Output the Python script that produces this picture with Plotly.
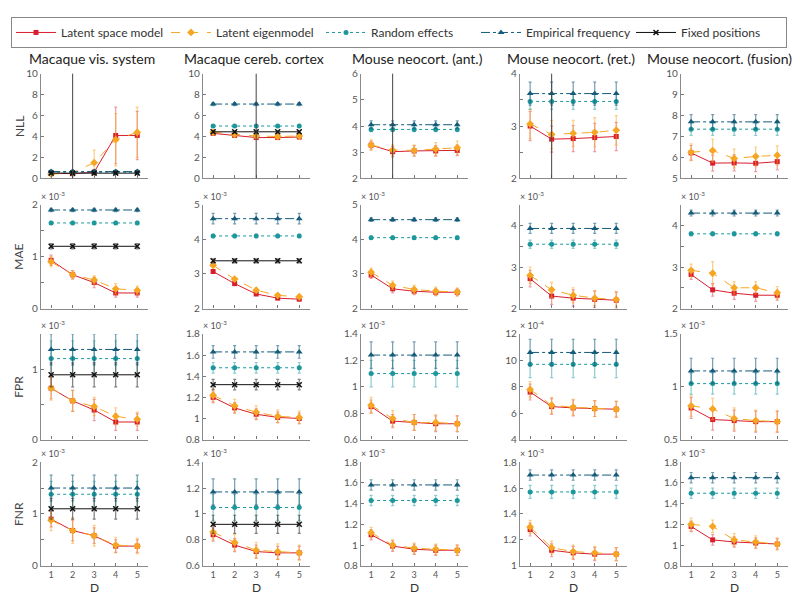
import plotly.graph_objects as go

# x values (latent dimension D)
D = [1, 2, 3, 4, 5]
datasets = ['Macaque vis. system', 'Macaque cereb. cortex', 'Mouse neocort. (ant.)',
            'Mouse neocort. (ret.)', 'Mouse neocort. (fusion)']
title_x = [84, 246, 410, 563, 711]
metrics = ['NLL', 'MAE', 'FPR', 'FNR']
chosen_D = [2, 3, 2, 2, None]

# exponent shown above each axis (None = none)
exponents = [
    [None, None, None, None, None],
    ['-3', '-3', '-3', '-3', '-3'],
    ['-3', '-3', '-3', '-4', '-3'],
    ['-3', '-3', '-3', '-3', '-3'],
]

# ---- NLL ----
nll_lsm = [[0.5, 0.45, 0.6, 4.1, 4.1], [4.3, 4.1, 3.9, 3.9, 3.95], [3.27, 3.02, 3.05, 3.05, 3.07],
           [3.0, 2.75, 2.76, 2.78, 2.8], [6.22, 5.73, 5.74, 5.72, 5.8]]
nll_lsm_err = [[0.1, 0.1, 0.15, 2.7, 2.3], [0.15, 0.15, 0.15, 0.15, 0.15], [0.15, 0.2, 0.2, 0.2, 0.2],
               [0.28, 0.25, 0.25, 0.27, 0.27], [0.35, 0.38, 0.38, 0.4, 0.4]]
nll_eig = [[0.4, 0.55, 1.5, 3.7, 4.4], [4.4, 4.2, 4.05, 4.0, 4.05], [3.27, 3.08, 3.07, 3.12, 3.17],
           [3.04, 2.84, 2.86, 2.88, 2.92], [6.25, 6.33, 5.95, 6.05, 6.1]]
nll_eig_err = [[0.1, 0.1, 1.2, 2.5, 2.4], [0.15, 0.15, 0.15, 0.15, 0.15], [0.2, 0.2, 0.2, 0.25, 0.25],
               [0.28, 0.27, 0.25, 0.28, 0.28], [0.4, 0.55, 0.45, 0.45, 0.45]]
nll_re = [0.6, 5.0, 3.87, 3.47, 7.35]
nll_re_err = [0.15, 0.1, 0.08, 0.15, 0.3]
nll_emp = [0.65, 7.1, 4.05, 3.62, 7.7]
nll_emp_err = [0.15, 0.15, 0.15, 0.22, 0.35]
nll_fix = [0.5, 4.45, None, None, None]
nll_fix_err = [0.1, 0.1, None, None, None]

# ---- MAE ----
mae_lsm = [[0.93, 0.65, 0.5, 0.3, 0.3], [3.07, 2.72, 2.42, 2.3, 2.27], [2.97, 2.57, 2.5, 2.47, 2.47],
           [2.72, 2.3, 2.25, 2.22, 2.2], [2.82, 2.45, 2.37, 2.32, 2.32]]
mae_lsm_err = [[0.1, 0.08, 0.1, 0.08, 0.08], [0.04, 0.04, 0.04, 0.04, 0.04], [0.1, 0.12, 0.1, 0.1, 0.1],
               [0.2, 0.2, 0.2, 0.2, 0.2], [0.12, 0.15, 0.15, 0.15, 0.12]]
mae_eig = [[0.9, 0.65, 0.55, 0.38, 0.35], [3.25, 2.85, 2.53, 2.38, 2.34], [3.05, 2.67, 2.55, 2.5, 2.48],
           [2.8, 2.45, 2.32, 2.25, 2.22], [2.92, 2.85, 2.5, 2.5, 2.38]]
mae_eig_err = [[0.1, 0.08, 0.08, 0.1, 0.08], [0.05, 0.05, 0.05, 0.05, 0.05], [0.12, 0.12, 0.12, 0.12, 0.12],
               [0.2, 0.18, 0.18, 0.18, 0.18], [0.15, 0.28, 0.15, 0.15, 0.15]]
mae_re = [1.65, 4.1, 4.05, 3.55, 3.8]
mae_re_err = [0.03, 0.05, 0.05, 0.1, 0.05]
mae_emp = [1.9, 4.6, 4.57, 3.93, 4.3]
mae_emp_err = [0.03, 0.15, 0.05, 0.12, 0.07]
mae_fix = [1.2, 3.38, None, None, None]
mae_fix_err = [0.05, 0.06, None, None, None]

# ---- FPR ----
fpr_lsm = [[0.73, 0.55, 0.42, 0.25, 0.25], [1.2, 1.1, 1.04, 1.01, 1.0], [0.85, 0.74, 0.73, 0.72, 0.72],
           [7.6, 6.5, 6.4, 6.35, 6.3], [0.8, 0.69, 0.68, 0.67, 0.67]]
fpr_lsm_err = [[0.15, 0.15, 0.15, 0.12, 0.12], [0.05, 0.05, 0.05, 0.05, 0.05], [0.05, 0.05, 0.06, 0.06, 0.06],
               [0.6, 0.6, 0.6, 0.6, 0.6], [0.1, 0.1, 0.1, 0.1, 0.1]]
fpr_eig = [[0.73, 0.55, 0.47, 0.33, 0.29], [1.22, 1.12, 1.06, 1.02, 1.01], [0.86, 0.76, 0.73, 0.73, 0.72],
           [7.8, 6.6, 6.45, 6.35, 6.3], [0.82, 0.79, 0.7, 0.68, 0.67]]
fpr_eig_err = [[0.17, 0.15, 0.13, 0.12, 0.1], [0.06, 0.06, 0.06, 0.06, 0.06], [0.06, 0.06, 0.06, 0.06, 0.06],
               [0.6, 0.6, 0.6, 0.6, 0.6], [0.1, 0.1, 0.1, 0.1, 0.1]]
fpr_re = [1.15, 1.48, 1.1, 9.7, 1.03]
fpr_re_err = [0.25, 0.05, 0.1, 1.0, 0.1]
fpr_emp = [1.28, 1.63, 1.24, 10.6, 1.15]
fpr_emp_err = [0.22, 0.06, 0.1, 1.0, 0.12]
fpr_fix = [0.92, 1.32, None, None, None]
fpr_fix_err = [0.17, 0.05, None, None, None]

# ---- FNR ----
fnr_lsm = [[0.9, 0.68, 0.58, 0.38, 0.38], [0.84, 0.76, 0.71, 0.7, 0.7], [1.1, 0.99, 0.96, 0.95, 0.95],
           [1.28, 1.12, 1.1, 1.09, 1.09], [1.18, 1.05, 1.03, 1.02, 1.01]]
fnr_lsm_err = [[0.15, 0.2, 0.15, 0.12, 0.12], [0.05, 0.05, 0.05, 0.05, 0.05], [0.05, 0.05, 0.05, 0.05, 0.05],
               [0.05, 0.05, 0.05, 0.05, 0.05], [0.05, 0.05, 0.05, 0.05, 0.05]]
fnr_eig = [[0.88, 0.68, 0.58, 0.4, 0.38], [0.86, 0.78, 0.72, 0.71, 0.7], [1.12, 1.0, 0.97, 0.96, 0.95],
           [1.3, 1.14, 1.11, 1.1, 1.09], [1.2, 1.18, 1.05, 1.03, 1.01]]
fnr_eig_err = [[0.2, 0.25, 0.2, 0.15, 0.15], [0.06, 0.06, 0.06, 0.06, 0.06], [0.05, 0.05, 0.05, 0.05, 0.05],
               [0.05, 0.05, 0.05, 0.05, 0.05], [0.06, 0.06, 0.06, 0.06, 0.06]]
fnr_re = [1.38, 1.05, 1.43, 1.57, 1.5]
fnr_re_err = [0.25, 0.1, 0.05, 0.05, 0.05]
fnr_emp = [1.5, 1.17, 1.58, 1.7, 1.65]
fnr_emp_err = [0.25, 0.1, 0.05, 0.04, 0.05]
fnr_fix = [1.1, 0.92, None, None, None]
fnr_fix_err = [0.2, 0.07, None, None, None]

# y axis ranges and ticks
y_ranges = [
    [[0, 10], [0, 10], [2, 6], [2, 4], [5, 10]],
    [[0, 2], [2, 5], [2, 5], [2, 4.5], [2, 4.5]],
    [[0, 1.5], [0.8, 1.8], [0.6, 1.4], [4, 12], [0.5, 1.5]],
    [[0, 2], [0.6, 1.4], [0.8, 1.8], [1, 1.8], [0.8, 1.8]],
]
y_ticks = [
    [[0, 2, 4, 6, 8, 10], [0, 2, 4, 6, 8, 10], [2, 3, 4, 5, 6], [2, 2.5, 3, 3.5, 4], [5, 6, 7, 8, 9, 10]],
    [[0, 0.5, 1, 1.5, 2], [2, 3, 4, 5], [2, 3, 4, 5], [2, 2.5, 3, 3.5, 4, 4.5], [2, 2.5, 3, 3.5, 4, 4.5]],
    [[0, 0.5, 1, 1.5], [0.8, 1, 1.2, 1.4, 1.6, 1.8], [0.6, 0.8, 1, 1.2, 1.4], [4, 6, 8, 10, 12], [0.5, 1, 1.5]],
    [[0, 0.5, 1, 1.5, 2], [0.6, 0.8, 1, 1.2, 1.4], [0.8, 1, 1.2, 1.4, 1.6, 1.8], [1, 1.2, 1.4, 1.6, 1.8],
     [0.8, 1, 1.2, 1.4, 1.6, 1.8]],
]
y_labels = [
    [['0', '2', '4', '6', '8', '10'], ['0', '2', '4', '6', '8', '10'], ['2', '3', '4', '5', '6'],
     ['2', '', '3', '', '4'], ['5', '6', '7', '8', '9', '10']],
    [['0', '', '1', '', '2'], ['2', '3', '4', '5'], ['2', '3', '4', '5'], ['2', '', '3', '', '4', ''],
     ['2', '', '3', '', '4', '']],
    [['0', '', '1', ''], ['0.8', '1', '1.2', '1.4', '1.6', '1.8'], ['0.6', '0.8', '1', '1.2', '1.4'],
     ['4', '6', '8', '10', '12'], ['0.5', '1', '1.5']],
    [['0', '', '1', '', '2'], ['0.6', '0.8', '1', '1.2', '1.4'], ['0.8', '1', '1.2', '1.4', '1.6', '1.8'],
     ['1', '1.2', '1.4', '1.6', '1.8'], ['0.8', '1', '1.2', '1.4', '1.6', '1.8']],
]

values = {
    'lsm': [nll_lsm, mae_lsm, fpr_lsm, fnr_lsm],
    'eig': [nll_eig, mae_eig, fpr_eig, fnr_eig],
}
errors = {
    'lsm': [nll_lsm_err, mae_lsm_err, fpr_lsm_err, fnr_lsm_err],
    'eig': [nll_eig_err, mae_eig_err, fpr_eig_err, fnr_eig_err],
}
flat = {
    're': ([nll_re, mae_re, fpr_re, fnr_re], [nll_re_err, mae_re_err, fpr_re_err, fnr_re_err]),
    'emp': ([nll_emp, mae_emp, fpr_emp, fnr_emp], [nll_emp_err, mae_emp_err, fpr_emp_err, fnr_emp_err]),
    'fix': ([nll_fix, mae_fix, fpr_fix, fnr_fix], [nll_fix_err, mae_fix_err, fpr_fix_err, fnr_fix_err]),
}

# Stil der Modelle
styles = {
    'lsm': dict(name='Latent space model', color='#d81e2c', err='rgba(216,30,44,0.45)',
                dash='solid', symbol='square', size=5),
    'eig': dict(name='Latent eigenmodel', color='#f6a623', err='rgba(246,166,35,0.55)',
                dash='dash', symbol='diamond', size=6),
    're': dict(name='Random effects', color='#1c979b', err='rgba(28,151,155,0.5)',
               dash='dot', symbol='circle', size=5),
    'emp': dict(name='Empirical frequency', color='#155b7a', err='rgba(21,91,122,0.6)',
                dash='dashdot', symbol='triangle-up', size=6),
    'fix': dict(name='Fixed positions', color='#111111', err='rgba(40,40,40,0.6)',
                dash='solid', symbol='x-thin', size=5),
}
order = ['lsm', 'eig', 're', 'emp', 'fix']

W, H = 800, 601
col_left = [33, 195, 353, 512, 673]
col_w = 107
row_top = [60, 194, 326, 457]
row_bot = [167, 300, 434, 563]

fig = go.Figure()
FONT = 'Lato'

for r in range(4):
    for c in range(5):
        idx = r * 5 + c + 1
        xa = 'x' if idx == 1 else f'x{idx}'
        ya = 'y' if idx == 1 else f'y{idx}'
        for key in order:
            st = styles[key]
            if key in values:
                yv = values[key][r][c]
                ye = errors[key][r][c]
            else:
                v = flat[key][0][r][c]
                e = flat[key][1][r][c]
                if v is None:
                    continue
                yv = [v] * len(D)
                ye = [e] * len(D)
            sym = st['symbol']
            fig.add_trace(go.Scatter(
                x=D, y=yv, xaxis=xa, yaxis=ya, mode='lines+markers',
                name=st['name'], legendgroup=key, showlegend=(idx == 1),
                line=dict(color=st['color'], width=1, dash=st['dash']),
                marker=dict(symbol=sym, size=st['size'], color=st['color'],
                            line=dict(color=st['color'], width=1.5 if key == 'fix' else 0)),
                error_y=dict(type='data', array=ye, visible=True, color=st['err'],
                             thickness=1.2, width=1.5),
                cliponaxis=False,
            ))

        x0 = col_left[c] / W
        x1 = (col_left[c] + col_w) / W
        y0 = 1 - row_bot[r] / H
        y1 = 1 - row_top[r] / H
        fig.layout[f'xaxis{idx}'] = dict(
            domain=[x0, x1], anchor=ya, range=[0.53, 5.5],
            tickvals=D, ticktext=[str(d) for d in D] if r == 3 else [''] * 5,
            ticks='inside', ticklen=3, tickcolor='#777', showgrid=False, zeroline=False,
            showline=True, linecolor='#8a8a8a', linewidth=1.3,
            tickfont=dict(size=9, color='#555', family=FONT),
        )
        fig.layout[f'yaxis{idx}'] = dict(
            domain=[y0, y1], anchor=xa, range=y_ranges[r][c],
            tickvals=y_ticks[r][c], ticktext=y_labels[r][c],
            ticks='inside', ticklen=3, tickcolor='#777', showgrid=False, zeroline=False,
            showline=True, linecolor='#8a8a8a', linewidth=1.3,
            tickfont=dict(size=10, color='#555', family=FONT),
        )
        if exponents[r][c]:
            fig.add_annotation(x=x0 - 0.003, y=y1 + 0.002, xref='paper', yref='paper',
                               text=f'× 10<sup>{exponents[r][c]}</sup>', showarrow=False,
                               xanchor='left', yanchor='bottom',
                               font=dict(size=9, color='#555', family=FONT))
        if r == 0 and chosen_D[c] is not None:
            fig.add_shape(type='line', xref=xa, yref=f'{ya} domain',
                          x0=chosen_D[c], x1=chosen_D[c], y0=0, y1=1,
                          line=dict(color='#444', width=1))
        if r == 3:
            fig.add_annotation(x=(x0 + x1) / 2, y=1 - 585 / H, xref='paper', yref='paper',
                               text='D', showarrow=False, xanchor='center', yanchor='middle',
                               font=dict(size=12, color='#333', family=FONT))
    fig.add_annotation(x=11 / W, y=1 - (row_top[r] + row_bot[r]) / 2 / H, xref='paper', yref='paper',
                       text=metrics[r], showarrow=False, textangle=-90, xanchor='center', yanchor='middle',
                       font=dict(size=12, color='#444', family=FONT))

for c in range(5):
    fig.add_annotation(x=title_x[c] / W, y=1 - 44 / H, xref='paper', yref='paper',
                       text=datasets[c], showarrow=False, xanchor='center', yanchor='middle',
                       font=dict(size=14, color='#222', family=FONT))

fig.update_layout(
    width=W, height=H, margin=dict(l=0, r=0, t=0, b=0),
    paper_bgcolor='white', plot_bgcolor='white',
    font=dict(family=FONT, color='#333'),
    legend=dict(orientation='h', x=3 / W, y=1 - 2 / H, xanchor='left', yanchor='top',
                bordercolor='#888', borderwidth=1, font=dict(size=12, color='#333', family=FONT),
                entrywidth=100, entrywidthmode='pixels', itemwidth=40,
                tracegroupgap=0),
)

fig.write_html('out.html')
